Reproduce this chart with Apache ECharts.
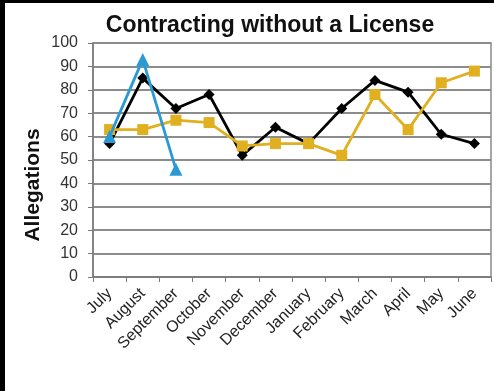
<!DOCTYPE html>
<html>
<head>
<meta charset="utf-8">
<script src="https://cdn.jsdelivr.net/npm/echarts@6/dist/echarts.min.js"></script>
<style>
  html, body { margin: 0; padding: 0; background: #fff; }
  #chart { width: 494px; height: 391px; }
</style>
</head>
<body>
<div id="chart"></div>
<script>
// Monthly allegations of contracting without a license, by fiscal year
const months = ['July', 'August', 'September', 'October', 'November', 'December',
                'January', 'February', 'March', 'April', 'May', 'June'];
const seriesBlack = [57, 85, 72, 78, 52, 64, 57, 72, 84, 79, 61, 57];
const seriesGold  = [63, 63, 67, 66, 56, 57, 57, 52, 78, 63, 83, 88];
const seriesBlue  = [60, 93, 46, null, null, null, null, null, null, null, null, null];
const yTicks = { min: 0, max: 100, interval: 10 };

const FONT = 'Liberation Sans, Arial, sans-serif';
const chart = echarts.init(document.getElementById('chart'), null, { renderer: 'canvas' });

function lineSeries(name, data, color, symbol, size, z) {
  return {
    name, type: 'line', data, z,
    symbol, symbolSize: size,
    lineStyle: { color, width: 2.8 },
    itemStyle: { color, borderColor: color, borderWidth: 0 },
    connectNulls: false,
    animation: false
  };
}

chart.setOption({
  animation: false,
  backgroundColor: '#fff',
  graphic: [
    {
      type: 'text', x: 270, y: 26, z: 50,
      style: {
        text: 'Contracting without a License', fontFamily: FONT, fontSize: 23, fontWeight: 'bold',
        fill: '#111', align: 'center', verticalAlign: 'middle'
      }
    },
    {
      type: 'text', x: 33, y: 185, rotation: Math.PI / 2, z: 50,
      style: {
        text: 'Allegations', fontFamily: FONT, fontSize: 21, fontWeight: 'bold',
        fill: '#111', align: 'center', verticalAlign: 'middle'
      }
    },
    { type: 'rect', left: 0, top: 0, shape: { width: 5, height: 391 }, style: { fill: '#000' }, z: 100 },
    { type: 'rect', left: 0, top: 0, shape: { width: 494, height: 3 }, style: { fill: '#000' }, z: 100 }
  ],
  grid: {
    left: 93, right: 3, top: 43, bottom: 114,
    show: true, borderColor: '#8a8a8a', borderWidth: 1.5
  },
  xAxis: {
    type: 'category', data: months, boundaryGap: true,
    axisLine: { lineStyle: { color: '#7a7a7a', width: 1.5 } },
    axisTick: { show: true, alignWithLabel: false, length: 5, lineStyle: { color: '#7a7a7a' } },
    axisLabel: {
      rotate: 45, interval: 0, margin: 14,
      fontFamily: FONT, fontSize: 16, color: '#222'
    },
    splitLine: { show: false }
  },
  yAxis: {
    type: 'value', min: yTicks.min, max: yTicks.max, interval: yTicks.interval,
    axisLine: { show: true, lineStyle: { color: '#7a7a7a', width: 1.5 } },
    axisTick: { show: true, length: 5, lineStyle: { color: '#7a7a7a' } },
    axisLabel: { fontFamily: FONT, fontSize: 16, color: '#333', margin: 15 },
    splitLine: { show: true, lineStyle: { color: '#8c8c8c', width: 1.8 } }
  },
  series: [
    lineSeries('Black', seriesBlack, '#000000', 'diamond', 11, 2),
    lineSeries('Gold', seriesGold, '#E0B020', 'rect', 11, 3),
    lineSeries('Blue', seriesBlue, '#2A9AD4', 'triangle', 13, 4)
  ]
});
</script>
</body>
</html>
